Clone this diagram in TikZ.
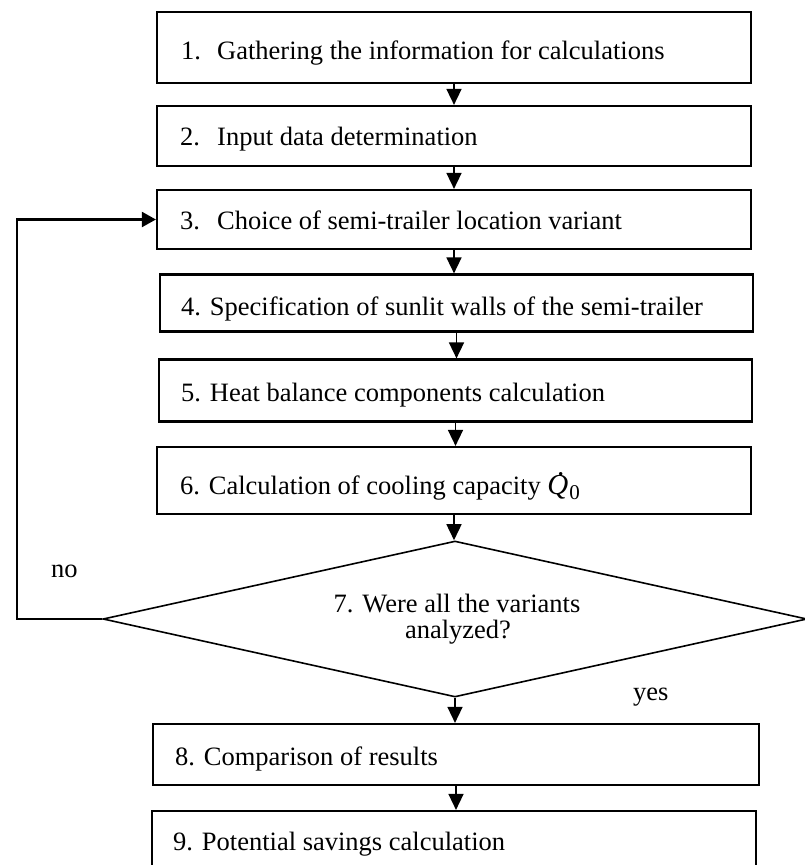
\documentclass[tikz,border=0pt]{standalone}
\usepackage{fontspec}
\setmainfont{Liberation Serif}
\usetikzlibrary{arrows.meta,shapes.geometric}
\tikzset{
  stepbox/.style={draw, line width=2.2pt, rectangle, inner sep=0pt},
  txt/.style={anchor=base west, inner sep=0pt, font=\fontsize{26.5}{30}\selectfont},
  ctxt/.style={anchor=base, inner sep=0pt, font=\fontsize{26.5}{30}\selectfont},
  arr/.style={line width=1.6pt, -{Triangle[width=15pt,length=16pt]}},
  fbline/.style={line width=2.2pt, -{Triangle[width=15pt,length=14pt]}},
  decision/.style={draw, diamond, line width=1.6pt, inner sep=0pt, minimum width=704pt, minimum height=156pt}
}
\newcommand{\qdotzero}{{\fontsize{29}{30}\selectfont\itshape\makebox[0pt][l]{\hspace{10.5pt}\raisebox{19pt}{.}}Q}\kern1pt\raisebox{-5pt}{\fontsize{21}{22}\selectfont 0}}
\begin{document}
\begin{tikzpicture}[x=1pt,y=-1pt]
\useasboundingbox (0,0) rectangle (805,865);
\fill[white] (0,0) rectangle (805,865);
\clip (0,0) rectangle (805,865);
% boxes
\node[stepbox, minimum width=594pt, minimum height=71pt] (b1) at (454,47.5) {};
\node[stepbox, minimum width=594pt, minimum height=60pt] (b2) at (454,136) {};
\node[stepbox, minimum width=594pt, minimum height=59pt] (b3) at (454,219.5) {};
\node[stepbox, minimum width=593pt, minimum height=57pt] (b4) at (456.5,303) {};
\node[stepbox, minimum width=593pt, minimum height=62pt] (b5) at (455.5,390.5) {};
\node[stepbox, minimum width=594pt, minimum height=67pt] (b6) at (454,480.5) {};
\node[decision] (d) at (455,619) {};
\node[stepbox, minimum width=606pt, minimum height=61pt] (b8) at (456,754.5) {};
\node[stepbox, minimum width=604pt, minimum height=60pt] (b9) at (454,841) {};
% texts
\node[txt] (t1) at (181,59) {\makebox[36pt][l]{1.}Gathering the information for calculations};
\node[txt] (t2) at (180,145) {\makebox[37pt][l]{2.}Input data determination};
\node[txt] (t3) at (180,229) {\makebox[37pt][l]{3.}Choice of semi-trailer location variant};
\node[txt] (t4) at (181,315) {4. Specification of sunlit walls of the semi-trailer};
\node[txt] (t5) at (181,401.5) {5. Heat balance components calculation};
\node[txt] (t6) at (180,494) {6. Calculation of cooling capacity \qdotzero};
\node[ctxt] (t7a) at (457,612) {7. Were all the variants};
\node[ctxt] (t7b) at (458,638) {analyzed?};
\node[txt] (t8) at (175,765) {8. Comparison of results};
\node[txt] (t9) at (173,850) {9. Potential savings calculation};
\node[txt] (no) at (51,577) {no};
\node[txt] (yes) at (633,700) {yes};
% connectors
\draw[arr] (b1.south) -- (b1.south |- b2.north);
\draw[arr] (b2.south) -- (b2.south |- b3.north);
\draw[arr] (b3.south) -- (b3.south |- b4.north);
\draw[arr] (b4.south) -- (b4.south |- b5.north);
\draw[arr] (b5.south) -- (b5.south |- b6.north);
\draw[arr] (b6.south) -- (b6.south |- d.north);
\draw[arr] (d.south) -- (d.south |- b8.north);
\draw[arr] (b8.south) -- (b8.south |- b9.north);
\coordinate (fb) at (17,619);
\draw[fbline] (d.west) -- (fb) |- (b3.west);
\end{tikzpicture}
\end{document}
